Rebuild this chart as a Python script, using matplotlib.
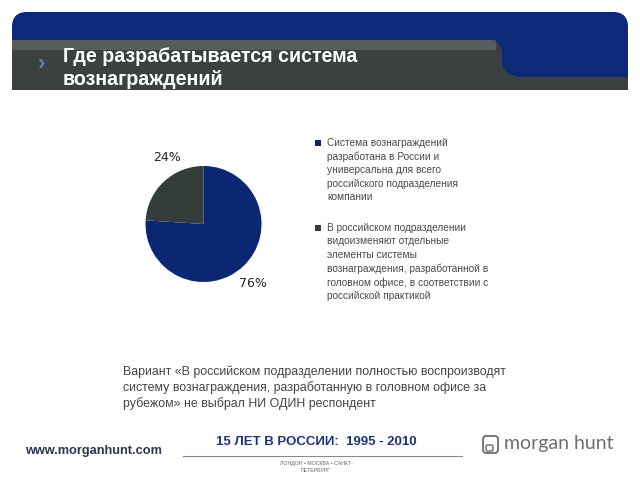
import numpy as np
import matplotlib.pyplot as plt
from matplotlib.patches import FancyBboxPatch, Rectangle, PathPatch
from matplotlib.path import Path

plt.rcParams['font.family'] = ['Liberation Sans', 'DejaVu Sans']

# data
shares = [76, 24]
share_labels = ['76%', '24%']
slice_colors = ['#0b2672', '#343d3c']
legend_texts = [
    'Система вознаграждений\nразработана в России и\nуниверсальна для всего\nроссийского подразделения\nкомпании',
    'В российском подразделении\nвидоизменяют отдельные\nэлементы системы\nвознаграждения, разработанной в\nголовном офисе, в соответствии с\nроссийской практикой',
]
title = 'Где разрабатывается система\nвознаграждений'
note = ('Вариант «В российском подразделении полностью воспроизводят\n'
        'систему вознаграждения, разработанную в головном офисе за\n'
        'рубежом» не выбрал НИ ОДИН респондент')

fig = plt.figure(figsize=(6.4, 4.8), dpi=100)

# background canvas in pixel coords
bg = fig.add_axes([0, 0, 1, 1])
bg.set_xlim(0, 640)
bg.set_ylim(480, 0)
bg.axis('off')

# header band
bg.add_patch(FancyBboxPatch((12, 12), 616, 78, boxstyle='round,pad=0,rounding_size=15',
                            fc='#0c2a78', ec='none'))
verts = [(12, 40), (490, 40), (500, 41), (502, 52), (502, 64), (505, 76), (520, 77),
         (628, 77), (628, 90), (12, 90), (12, 40)]
codes = [Path.MOVETO, Path.LINETO, Path.CURVE3, Path.CURVE3, Path.LINETO, Path.CURVE3,
         Path.CURVE3, Path.LINETO, Path.LINETO, Path.LINETO, Path.CLOSEPOLY]
bg.add_patch(PathPatch(Path(verts, codes), fc='#3a4140', ec='none'))
bg.add_patch(Rectangle((12, 40), 484, 10, fc='#7a8080', ec='none', alpha=0.45))
bg.text(42, 64, '›', color='#5a7fb0', fontsize=16, fontweight='bold', ha='center', va='center')
bg.text(63, 68, title, color='white', fontsize=14.1, fontweight='bold',
        ha='left', va='center', linespacing=1.22)

# legend
leg_y = [143, 228]
for y, txt, c in zip(leg_y, legend_texts, slice_colors):
    bg.add_patch(Rectangle((315, y - 3.5), 6, 6, fc=c, ec='none'))
    bg.text(327, y - 5, txt, color='#4a4a4a', fontsize=7.3, ha='left', va='top',
            linespacing=1.42)

# note
bg.text(123, 366, note, color='#444444', fontsize=8.95, ha='left', va='top', linespacing=1.3)

# footer
bg.text(25, 451, 'www.morganhunt.com', color='#2c3350', fontsize=9.2, fontweight='bold',
        ha='left', va='center')
bg.text(316, 442, '15 ЛЕТ В РОССИИ:  1995 - 2010', color='#1b3478', fontsize=9.5,
        fontweight='bold', ha='center', va='center')
bg.plot([183, 462], [456, 456], color='#888888', lw=0.8)
bg.text(316, 467, 'ЛОНДОН • МОСКВА • САНКТ-\nПЕТЕРБУРГ', color='#666666', fontsize=3.8,
        ha='center', va='center', linespacing=1.4)
bg.add_patch(FancyBboxPatch((483, 436), 15, 17, boxstyle='round,pad=0,rounding_size=3',
                            fc='none', ec='#777777', lw=1.4))
bg.add_patch(FancyBboxPatch((486, 445), 7, 6, boxstyle='round,pad=0,rounding_size=1.5',
                            fc='none', ec='#777777', lw=1.1))
bg.text(504, 444, 'morgan hunt', color='#6e6e6e', fontsize=14, ha='left', va='center',
        family=['Lato', 'DejaVu Sans'])

# pie
cx, cy, r = 203.5, 224, 58
ax = fig.add_axes([(cx - r) / 640, (480 - cy - r) / 480, 2 * r / 640, 2 * r / 480])
ax.pie(shares, colors=slice_colors, startangle=90, counterclock=False,
       wedgeprops=dict(linewidth=0))
ax.set_xlim(-1, 1)
ax.set_ylim(-1, 1)
ax.text(-0.63, 1.14, share_labels[1], fontsize=9, color='#222222', ha='center', va='center',
        family=['DejaVu Sans'])
ax.text(0.85, -1.02, share_labels[0], fontsize=9, color='#222222', ha='center', va='center',
        family=['DejaVu Sans'])

fig.savefig('out.png', dpi=100)
